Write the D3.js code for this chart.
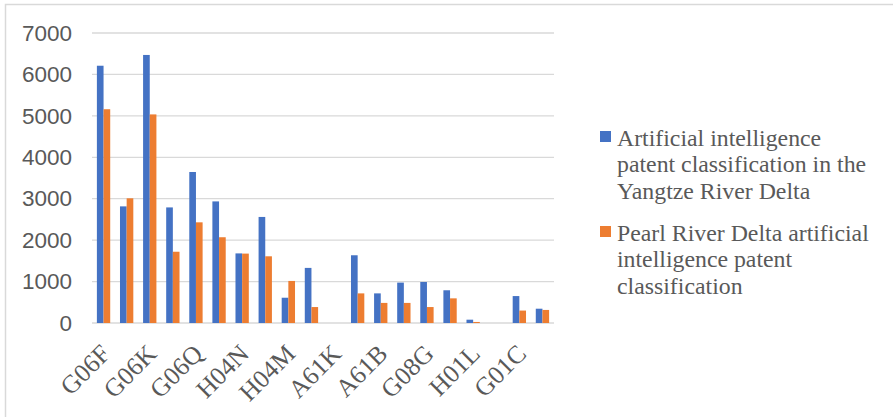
<!DOCTYPE html>
<html><head><meta charset="utf-8">
<script src="https://cdn.jsdelivr.net/npm/d3@7"></script>
<style>body{margin:0;background:#fff}svg{display:block}</style>
</head><body>
<script>
// Category labels (only every other category is labelled on the axis)
const categories = ["G06F","","G06K","","G06Q","","H04N","","H04M","","A61K","","A61B","","G08G","","H01L","","G01C",""];
const yangtze = [6210,2815,6470,2790,3645,2935,1680,2560,610,1330,0,1635,715,975,990,790,80,0,650,345];
const pearl   = [5160,3010,5035,1720,2430,2070,1675,1610,1015,385,0,715,485,485,385,595,25,0,300,315];
const seriesNames = ["Artificial intelligence patent classification in the Yangtze River Delta",
                     "Pearl River Delta artificial intelligence patent classification"];
const legendLines = [["Artificial intelligence","patent classification in the","Yangtze River Delta"],
                     ["Pearl River Delta artificial","intelligence patent","classification"]];
const yTicks = [0,1000,2000,3000,4000,5000,6000,7000];
const colors = ["#4472C4","#ED7D31"];

const W = 893, H = 417;
const svg = d3.select("body").append("svg").attr("width", W).attr("height", H);

// frame
svg.append("path").attr("d", `M5.5,${H} L5.5,4.5 L${W},4.5`).attr("fill","none").attr("stroke","#d9d9d9").attr("stroke-width",1.5);

const x0 = d3.scaleBand().domain(d3.range(categories.length)).range([92, 554]).paddingInner(0.423).paddingOuter(0.2115);
const x1 = d3.scaleBand().domain([0,1]).range([0, x0.bandwidth()]);
const y = d3.scaleLinear().domain([0, 7000]).range([323, 33]);

// gridlines
svg.append("g").selectAll("line").data(yTicks).join("line")
  .attr("x1", 92).attr("x2", 554)
  .attr("y1", d => y(d)).attr("y2", d => y(d))
  .attr("stroke", "#d9d9d9").attr("stroke-width", 1.3);

// y labels
const yAxis = d3.axisLeft(y).tickValues(yTicks).tickFormat(d3.format("d")).tickSize(0).tickPadding(0);
const gy = svg.append("g").attr("transform", "translate(72,0)").call(yAxis);
gy.select(".domain").remove();
gy.selectAll("text").attr("font-family", "Liberation Sans, Arial, sans-serif").attr("font-size", 22.5).attr("fill", "#595959");

// bars
const data = [yangtze, pearl];
const g = svg.append("g");
categories.forEach((c, i) => {
  data.forEach((s, k) => {
    g.append("rect")
      .attr("x", x0(i) + x1(k))
      .attr("y", y(s[i]))
      .attr("width", x1.bandwidth())
      .attr("height", y(0) - y(s[i]))
      .attr("fill", colors[k]);
  });
});

// x labels
const xAxis = d3.axisBottom(x0).tickFormat(i => categories[i]).tickSize(0).tickPadding(0);
const gx = svg.append("g").call(xAxis);
gx.select(".domain").remove();
gx.selectAll(".tick").attr("transform", d => `translate(${x0(d) + x0.bandwidth()/2 + 2},349)`);
gx.selectAll("text")
  .attr("font-family", "Liberation Serif, Times New Roman, serif").attr("font-size", 25.5).attr("fill", "#595959")
  .attr("text-anchor", "end").attr("transform", "rotate(-45)").attr("x", 0).attr("y", 0).attr("dy", "0.35em");

// legend
const lg = svg.append("g");
const legendTop = [131, 226];
legendLines.forEach((lines, k) => {
  lg.append("rect").attr("x", 600).attr("y", legendTop[k]).attr("width", 11).attr("height", 11).attr("fill", colors[k]);
  const t = lg.append("text").attr("font-family", "Liberation Serif, Times New Roman, serif").attr("font-size", 23.8).attr("fill", "#595959");
  lines.forEach((ln, j) => {
    t.append("tspan").attr("x", 617).attr("y", legendTop[k] + 14.5 + j * 26.8).text(ln);
  });
});
</script>
</body></html>
